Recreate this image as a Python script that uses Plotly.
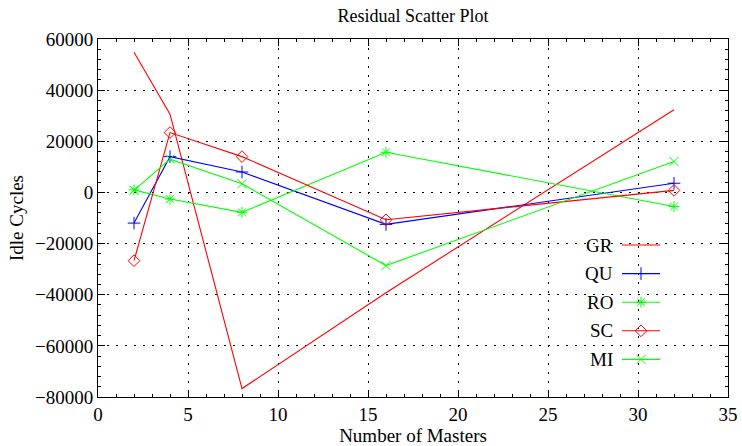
import plotly.graph_objects as go

# Residuals for each scheduler at each master count
masters = [2, 4, 8, 16, 32]
series_names = ["GR", "QU", "RO", "SC", "MI"]
gr = [54800, 30600, -76700, -39200, 32300]
qu = [-12000, 14000, 8000, -12500, 3600]
ro = [1000, -2600, -7800, 15700, -5500]
sc = [-26700, 23400, 14000, -10700, 800]
mi = [800, 13000, 3400, -28600, 12100]

x_ticks = [0, 5, 10, 15, 20, 25, 30, 35]
y_ticks = [-80000, -60000, -40000, -20000, 0, 20000, 40000, 60000]

RED, BLUE, GREEN = "#ff0000", "#0000ff", "#00ff00"
styles = {
    "GR": dict(color=RED, symbol=None),
    "QU": dict(color=BLUE, symbol="cross-thin"),
    "RO": dict(color=GREEN, symbol="asterisk"),
    "SC": dict(color=RED, symbol="diamond-open"),
    "MI": dict(color=GREEN, symbol="x-thin"),
}
values = {"GR": gr, "QU": qu, "RO": ro, "SC": sc, "MI": mi}

W, H = 742, 446
L, R, T, B = 98, 14, 39, 49
FONT = "Liberation Serif, Times New Roman, serif"

fig = go.Figure()


def marker_for(st):
    if st["symbol"] is None:
        return dict(size=1, opacity=0)
    return dict(symbol=st["symbol"], size=9, color=st["color"],
                line=dict(color=st["color"], width=1))


for name in series_names:
    st = styles[name]
    fig.add_trace(go.Scatter(
        x=masters, y=values[name], name=name,
        mode="lines" if st["symbol"] is None else "lines+markers",
        line=dict(color=st["color"], width=1.1),
        marker=marker_for(st), showlegend=False,
    ))

# Key drawn inside the plot: right-aligned label followed by a line sample
key_text_right = 615
key_line = (622, 660)
key_y0, key_dy = 245, 28.6
for i, name in enumerate(series_names):
    st = styles[name]
    py = key_y0 + i * key_dy
    fig.add_trace(go.Scatter(
        x=[key_line[0], key_line[1]], y=[py, py], xaxis="x2", yaxis="y2",
        mode="lines", line=dict(color=st["color"], width=1.1),
        showlegend=False, hoverinfo="skip",
    ))
    if st["symbol"] is not None:
        fig.add_trace(go.Scatter(
            x=[(key_line[0] + key_line[1]) / 2], y=[py], xaxis="x2", yaxis="y2",
            mode="markers", marker=marker_for(st), showlegend=False,
            hoverinfo="skip",
        ))
    fig.add_annotation(
        x=key_text_right, y=py, xref="x2", yref="y2", text=name,
        showarrow=False, xanchor="right", yanchor="middle",
        font=dict(family=FONT, size=19, color="black"),
    )

grid_dash = "2px,7px"
fig.update_layout(
    width=W, height=H,
    margin=dict(l=L, r=R, t=T, b=B, autoexpand=False),
    paper_bgcolor="white", plot_bgcolor="white",
    font=dict(family=FONT, color="black"),
    title=dict(text="Residual Scatter Plot", x=(L + W - R) / 2 / W, xanchor="center",
               y=1 - 16 / H, yanchor="middle", font=dict(family=FONT, size=18)),
    xaxis=dict(
        range=[0, 35], tickvals=x_ticks, ticktext=[str(v) for v in x_ticks],
        ticks="inside", ticklen=7, tickcolor="black", mirror="allticks",
        showline=True, linecolor="black", linewidth=1, automargin=False,
        showgrid=True, gridcolor="black", gridwidth=1, griddash=grid_dash,
        zeroline=False, tickfont=dict(family=FONT, size=19),
        minor=dict(dtick=1, ticks="inside", ticklen=3, tickcolor="black", showgrid=False),
        title=dict(text="Number of Masters", font=dict(family=FONT, size=19), standoff=4),
    ),
    yaxis=dict(
        range=[-80000, 60000], tickvals=y_ticks,
        ticktext=[("\u2212" + str(-v)) if v < 0 else str(v) for v in y_ticks],
        ticks="inside", ticklen=7, tickcolor="black", mirror="allticks",
        showline=True, linecolor="black", linewidth=1, automargin=False,
        showgrid=True, gridcolor="black", gridwidth=1, griddash=grid_dash,
        zeroline=False, tickfont=dict(family=FONT, size=19),
        minor=dict(dtick=4000, ticks="inside", ticklen=3, tickcolor="black", showgrid=False),
        title=dict(text="Idle Cycles", font=dict(family=FONT, size=19), standoff=6),
    ),
    xaxis2=dict(range=[L, W - R], overlaying="x", visible=False, fixedrange=True),
    yaxis2=dict(range=[H - B, T], overlaying="y", visible=False, fixedrange=True),
)

fig.write_html("out.html")
